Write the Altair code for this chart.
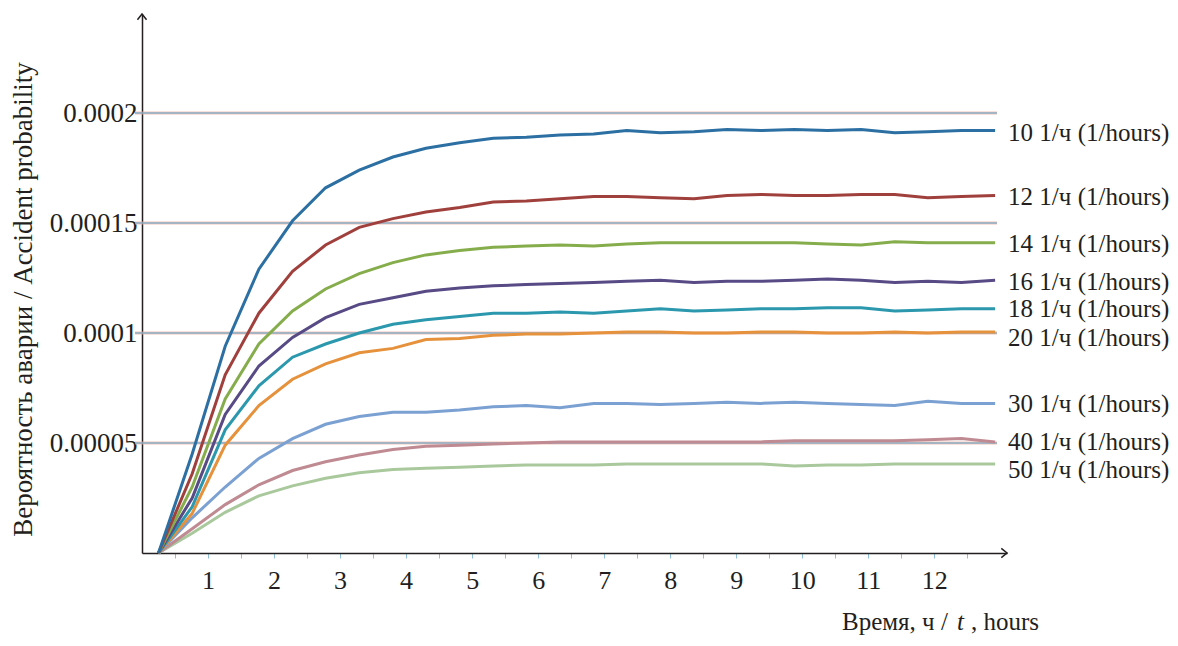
import altair as alt
import pandas as pd

# ---- data (probabilities in units of 1e-5) ----
time_h = [0.25, 0.76, 1.26, 1.77, 2.28, 2.78, 3.29, 3.80, 4.30, 4.81, 5.32, 5.82, 6.33,
          6.84, 7.34, 7.85, 8.36, 8.86, 9.37, 9.88, 10.38, 10.89, 11.40, 11.90, 12.41, 12.92]

p10 = [0, 4.5, 9.4, 12.9, 15.1, 16.6, 17.4, 18.0, 18.4, 18.65, 18.85, 18.9, 19.0,
       19.05, 19.2, 19.1, 19.15, 19.25, 19.2, 19.25, 19.2, 19.25, 19.1, 19.15, 19.2, 19.2]
p12 = [0, 3.6, 8.1, 10.9, 12.8, 14.0, 14.8, 15.2, 15.5, 15.7, 15.95, 16.0, 16.1,
       16.2, 16.2, 16.15, 16.1, 16.25, 16.3, 16.25, 16.25, 16.3, 16.3, 16.15, 16.2, 16.25]
p14 = [0, 3.0, 7.0, 9.5, 11.0, 12.0, 12.7, 13.2, 13.55, 13.75, 13.9, 13.95, 14.0,
       13.95, 14.05, 14.1, 14.1, 14.1, 14.1, 14.1, 14.05, 14.0, 14.15, 14.1, 14.1, 14.1]
p16 = [0, 2.5, 6.3, 8.5, 9.8, 10.7, 11.3, 11.6, 11.9, 12.05, 12.15, 12.2, 12.25,
       12.3, 12.35, 12.4, 12.3, 12.35, 12.35, 12.4, 12.45, 12.4, 12.3, 12.35, 12.3, 12.4]
p18 = [0, 2.1, 5.6, 7.6, 8.9, 9.5, 10.0, 10.4, 10.6, 10.75, 10.9, 10.9, 10.95,
       10.9, 11.0, 11.1, 11.0, 11.05, 11.1, 11.1, 11.15, 11.15, 11.0, 11.05, 11.1, 11.1]
p20 = [0, 1.8, 4.9, 6.7, 7.9, 8.6, 9.1, 9.3, 9.7, 9.75, 9.9, 9.95, 9.95,
       10.0, 10.05, 10.05, 10.0, 10.0, 10.05, 10.05, 10.0, 10.0, 10.05, 10.0, 10.05, 10.05]
p30 = [0, 1.6, 3.0, 4.3, 5.2, 5.85, 6.2, 6.4, 6.4, 6.5, 6.65, 6.7, 6.6,
       6.8, 6.8, 6.75, 6.8, 6.85, 6.8, 6.85, 6.8, 6.75, 6.7, 6.9, 6.8, 6.8]
p40 = [0, 1.1, 2.2, 3.1, 3.75, 4.15, 4.45, 4.7, 4.85, 4.9, 4.95, 5.0, 5.05,
       5.05, 5.05, 5.05, 5.05, 5.05, 5.05, 5.1, 5.1, 5.1, 5.1, 5.15, 5.2, 5.05]
p50 = [0, 0.9, 1.85, 2.6, 3.05, 3.4, 3.65, 3.8, 3.85, 3.9, 3.95, 4.0, 4.0,
       4.0, 4.05, 4.05, 4.05, 4.05, 4.05, 3.95, 4.0, 4.0, 4.05, 4.05, 4.05, 4.05]

series_names = ["10", "12", "14", "16", "18", "20", "30", "40", "50"]
series_values = [p10, p12, p14, p16, p18, p20, p30, p40, p50]
series_colors = ["#2c6fa2", "#a0403d", "#86ad4c", "#574a85", "#2b98ae",
                 "#e6913c", "#7ba0d2", "#bf8a92", "#a9c99d"]
label_texts = [n + " 1/ч (1/hours)" for n in series_names]
label_pos = [19.1, 16.2, 14.05, 12.3, 11.1, 9.77, 6.77, 5.05, 3.77]

grid_vals = [5, 10, 15, 20]
x_tick_vals = [0.5, 1, 1.5, 2, 2.5, 3, 3.5, 4, 4.5, 5, 5.5, 6, 6.5, 7, 7.5, 8, 8.5,
               9, 9.5, 10, 10.5, 11, 11.5, 12, 12.5]
SCALE = 1e-5
X_MAX = 13.1
Y_MAX = 24.5

# ---- tables ----
rows = []
for name, vals in zip(series_names[::-1], series_values[::-1]):
    for t, v in zip(time_h, vals):
        rows.append({"x": t, "p": v * SCALE, "s": name})
df_lines = pd.DataFrame(rows)

df_labels = pd.DataFrame({"x": [time_h[-1]] * len(series_names),
                          "p": [v * SCALE for v in label_pos],
                          "s": series_names, "txt": label_texts})
df_grid = pd.DataFrame({"p": [v * SCALE for v in grid_vals]})
df_arrow_x = pd.DataFrame({"x": [X_MAX], "p": [0.0]})
df_arrow_y = pd.DataFrame({"x": [0.0], "p": [Y_MAX * SCALE]})
df_one = pd.DataFrame({"k": [0]})

FONT = "Liberation Serif"
INK = "#231f20"

xscale = alt.Scale(domain=[0, X_MAX], nice=False, zero=False)
yscale = alt.Scale(domain=[0, Y_MAX * SCALE], nice=False)
xaxis = alt.Axis(values=x_tick_vals, labelExpr="datum.value % 1 === 0 ? format(datum.value, 'd') : ''",
                 title=None, grid=False, domainColor=INK, domainWidth=1.5,
                 tickColor="#8cc0da", tickSize=5, tickWidth=1,
                 labelFont=FONT, labelFontSize=26, labelColor=INK, labelPadding=9,
                 labelBaseline="top", labelFlush=False)
yaxis = alt.Axis(values=[v * SCALE for v in grid_vals], format=".5~f",
                 title="Вероятность аварии / Accident probability",
                 titleFont=FONT, titleFontSize=27, titleFontWeight="normal", titleColor=INK,
                 titleX=-119, titleY=285, titleAngle=270, titleAlign="center",
                 titleBaseline="middle",
                 grid=False, domainColor=INK, domainWidth=1.5, ticks=False,
                 labelFont=FONT, labelFontSize=27, labelColor=INK, labelPadding=5)

X = alt.X("x:Q", scale=xscale, axis=xaxis)
Y = alt.Y("p:Q", scale=yscale, axis=yaxis)

color = alt.Color("s:N", scale=alt.Scale(domain=series_names, range=series_colors), legend=None)

grid_pink = alt.Chart(df_grid).mark_rule(stroke="#f0b0a0", strokeWidth=3, opacity=0.75).encode(
    y=Y, x=alt.value(-7), x2=alt.value(855))
grid_blue = alt.Chart(df_grid).mark_rule(stroke="#55a3cc", strokeWidth=1.2).encode(
    y=Y, x=alt.value(-7), x2=alt.value(855))

lines = alt.Chart(df_lines).mark_line(strokeWidth=3).encode(
    x=X, y=Y, color=color, detail="s:N")

labels = alt.Chart(df_labels).mark_text(align="left", baseline="middle", dx=13,
                                        font=FONT, fontSize=25, color=INK).encode(
    x=X, y=Y, text="txt:N")

arrow_x = alt.Chart(df_arrow_x).mark_point(shape="M-1,-0.8L0,0L-1,0.8", filled=False,
                                           size=130, color=INK, strokeWidth=1.5, opacity=1).encode(x=X, y=Y)
arrow_y = alt.Chart(df_arrow_y).mark_point(shape="M-0.8,1L0,0L0.8,1", filled=False,
                                           size=130, color=INK, strokeWidth=1.5, opacity=1).encode(x=X, y=Y)

title1 = alt.Chart(df_one).mark_text(text="Время, ч / ", align="left", baseline="alphabetic",
                                     font=FONT, fontSize=25, color=INK).encode(
    x=alt.value(700), y=alt.value(616))
title2 = alt.Chart(df_one).mark_text(text="t", align="left", baseline="alphabetic",
                                     font=FONT, fontSize=25, fontStyle="italic", color=INK).encode(
    x=alt.value(815), y=alt.value(616))
title3 = alt.Chart(df_one).mark_text(text=", hours", align="left", baseline="alphabetic",
                                     font=FONT, fontSize=25, color=INK).encode(
    x=alt.value(829), y=alt.value(616))

chart = alt.layer(grid_pink, grid_blue, lines, labels, arrow_x, arrow_y,
                  title1, title2, title3).properties(
    width=865, height=539,
    autosize=alt.AutoSizeParams(type="none"),
    padding={"left": 134, "top": 6, "right": 163, "bottom": 85},
    background="white",
).configure_view(stroke=None)

chart.save("out.html", embed_options={"renderer": "svg", "actions": False})
